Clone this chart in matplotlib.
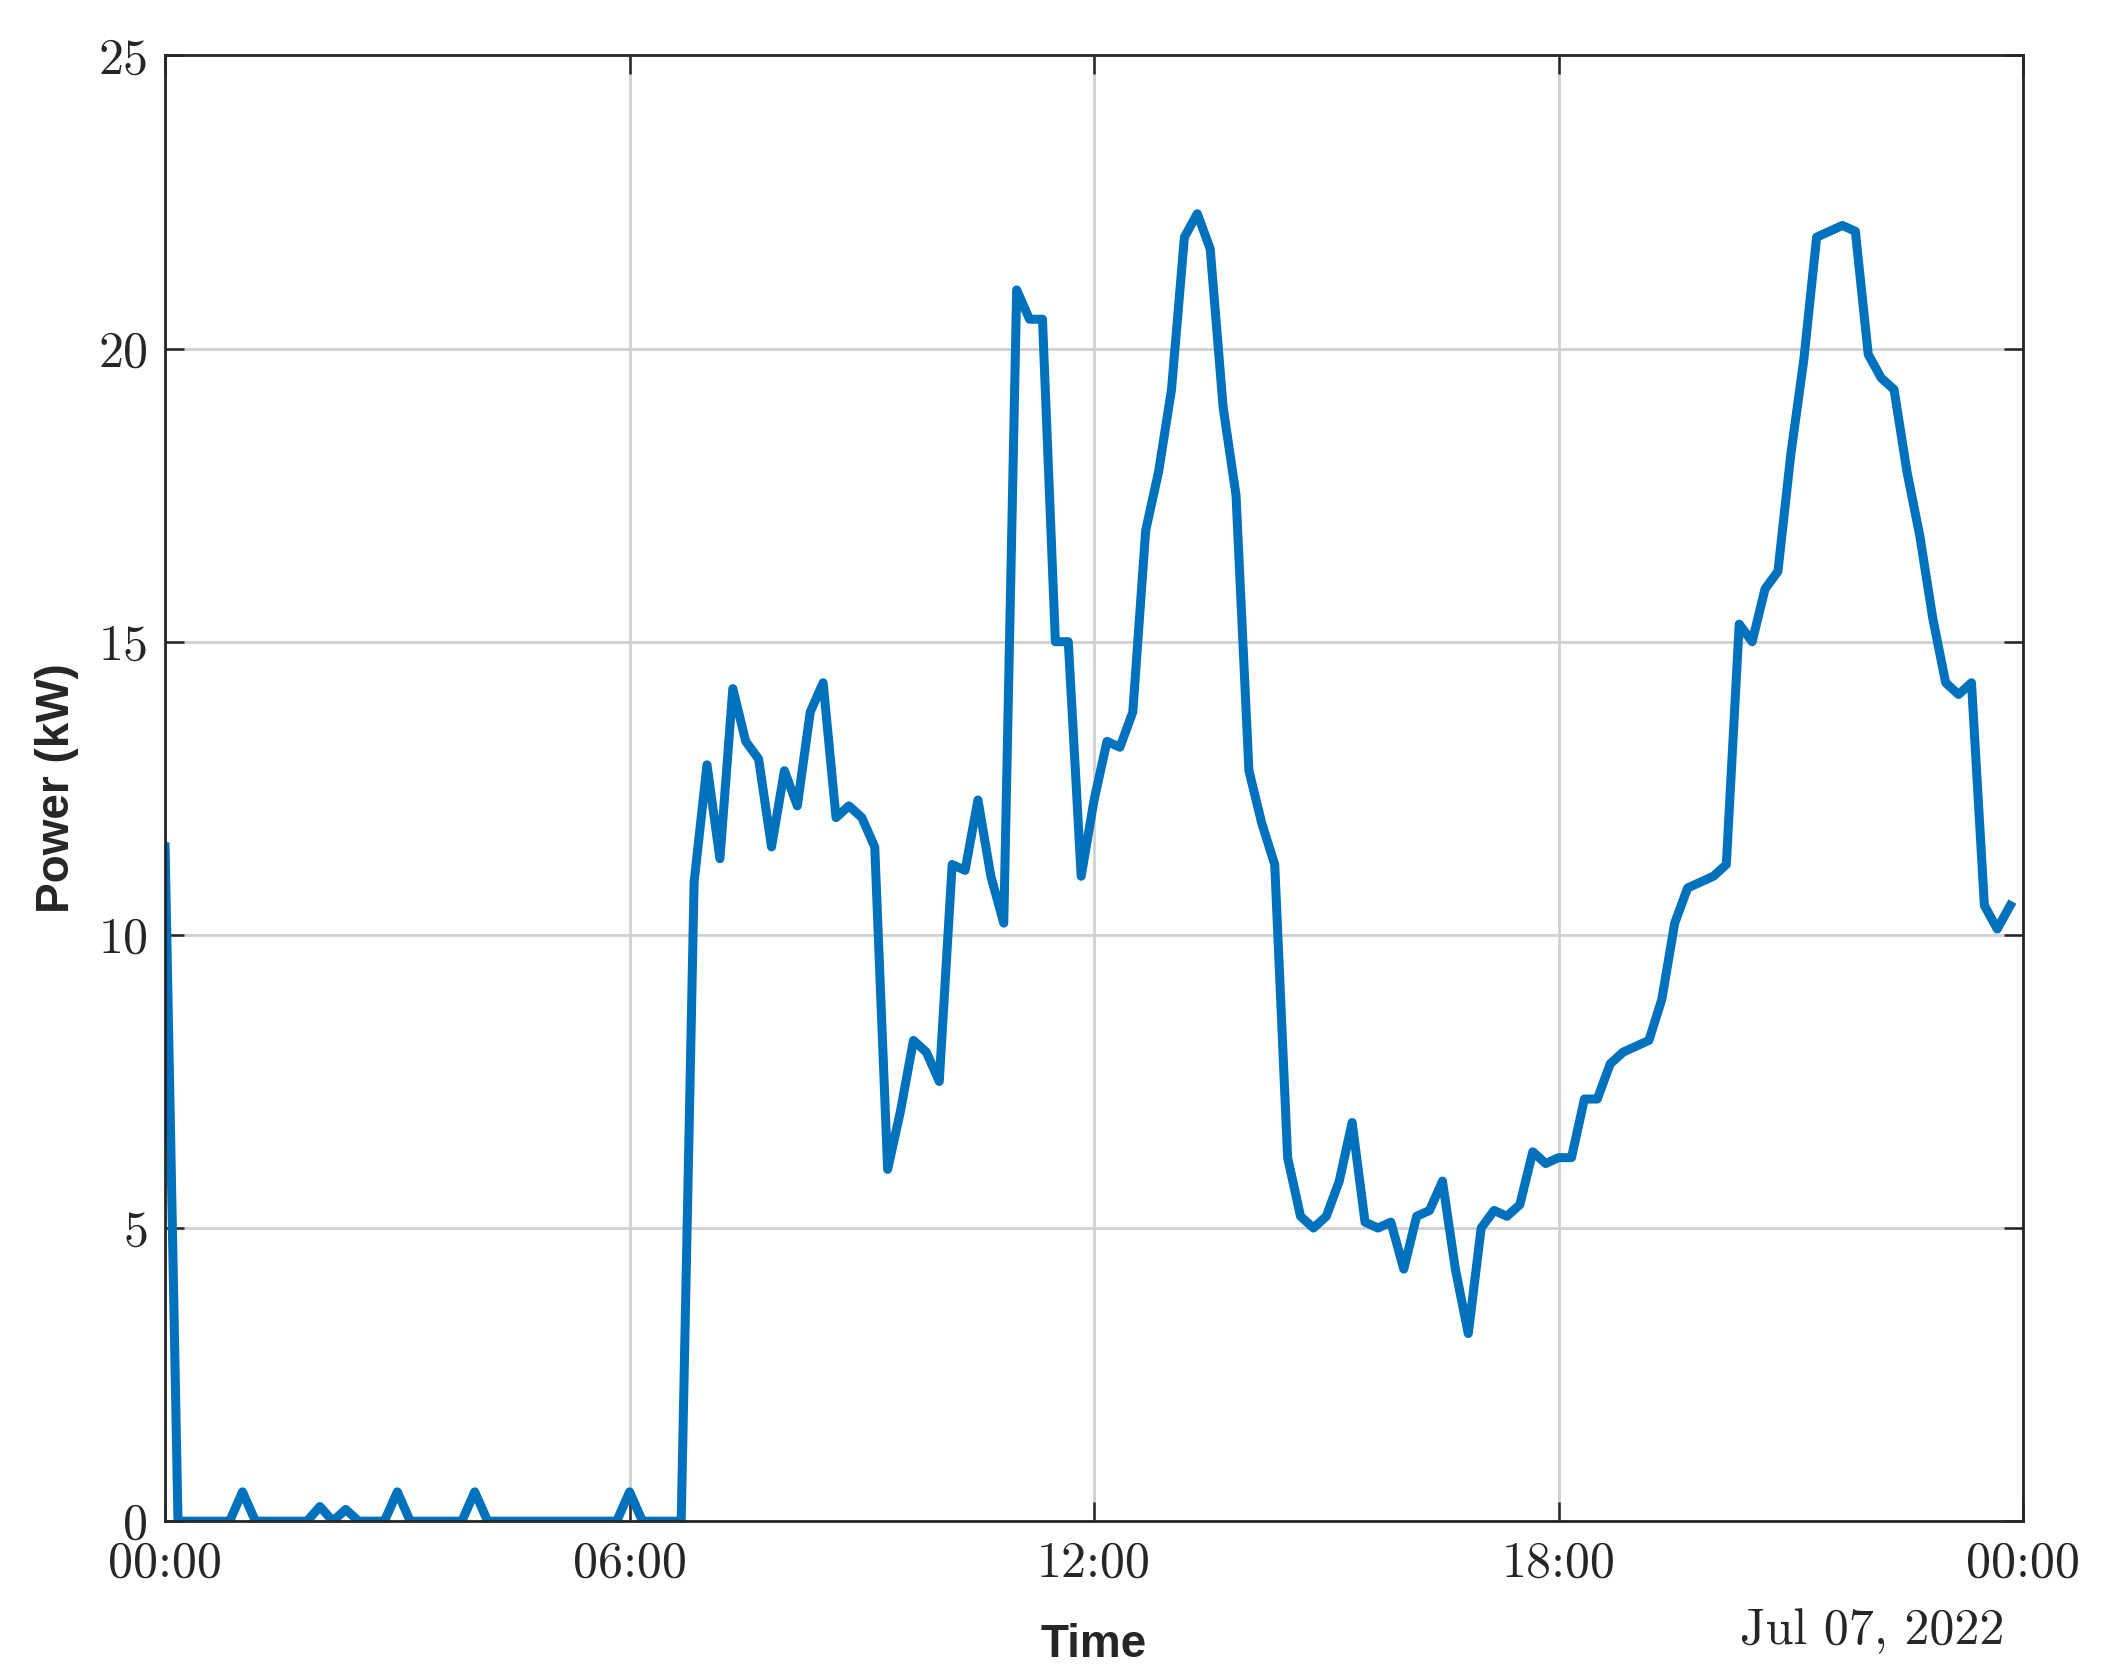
import matplotlib
matplotlib.use("Agg")
import matplotlib.pyplot as plt
import numpy as np

power_kw = [11.5, 0, 0, 0, 0, 0, 0.5, 0, 0, 0, 0, 0, 0.25, 0, 0.2, 0, 0, 0, 0.5, 0,
            0, 0, 0, 0, 0.5, 0, 0, 0, 0, 0, 0, 0, 0, 0, 0, 0, 0.5, 0, 0, 0,
            0, 10.9, 12.9, 11.3, 14.2, 13.3, 13.0, 11.5, 12.8, 12.2, 13.8, 14.3, 12.0, 12.2, 12.0, 11.5,
            6.0, 7.0, 8.2, 8.0, 7.5, 11.2, 11.1, 12.3, 11.0, 10.2, 21.0, 20.5, 20.5, 15.0, 15.0,
            11.0, 12.3, 13.3, 13.2, 13.8, 16.9, 17.9, 19.3, 21.9, 22.3, 21.7, 19.0, 17.5, 12.8,
            11.9, 11.2, 6.2, 5.2, 5.0, 5.2, 5.8, 6.8, 5.1, 5.0, 5.1, 4.3, 5.2, 5.3, 5.8, 4.3,
            3.2, 5.0, 5.3, 5.2, 5.4, 6.3, 6.1, 6.2, 6.2, 7.2, 7.2, 7.8, 8.0, 8.1, 8.2, 8.9,
            10.2, 10.8, 10.9, 11.0, 11.2, 15.3, 15.0, 15.9, 16.2, 18.2, 19.8, 21.9, 22.0, 22.1,
            22.0, 19.9, 19.5, 19.3, 17.9, 16.8, 15.4, 14.3, 14.1, 14.3, 10.5, 10.1, 10.5]
hours = np.arange(len(power_kw)) * 10 / 60.0
tick_hours = [0, 6, 12, 18, 24]
tick_labels = ["00:00", "06:00", "12:00", "18:00", "00:00"]
y_ticks = [0, 5, 10, 15, 20, 25]
date_label = "Jul 07, 2022"

fig = plt.figure(figsize=(21.03, 16.79), dpi=100)
ax = fig.add_axes([0.0785, 0.094, 0.8835, 0.873])
ax.plot(hours, power_kw, color="#0072BD", lw=6.5)
ax.set_xlim(0, 24)
ax.set_ylim(0, 25)
ax.set_xticks(tick_hours)
ax.set_yticks(y_ticks)
serif = {"family": "cmr10", "size": 36}
ax.set_xticklabels(tick_labels, fontdict=serif)
ax.set_yticklabels([str(v) for v in y_ticks], fontdict=serif)
ax.tick_params(axis="x", pad=14)
ax.tick_params(axis="y", pad=12)
ax.tick_params(direction="in", length=14, width=1.8, top=True, right=True, colors="#262626")
ax.grid(True, color="#d0d0d0", lw=2)
for s in ax.spines.values():
    s.set_linewidth(2); s.set_color("#262626")
ax.set_xlabel("Time", family="Liberation Sans", weight="bold", size=33, color="#262626", labelpad=26)
ax.set_ylabel("Power (kW)", family="Liberation Sans", weight="bold", size=33, color="#262626", labelpad=14)
ax.text(0.99, -0.075, date_label, transform=ax.transAxes, ha="right", va="center",
        family="cmr10", size=36, color="#262626")
fig.savefig("out.png", dpi=100)
